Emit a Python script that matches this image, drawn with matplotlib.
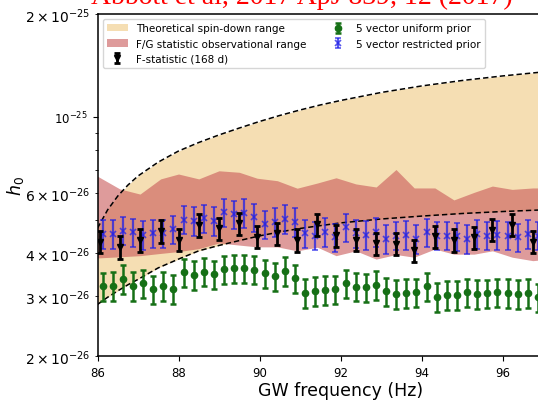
# h0 upper limits vs GW frequency: spin-down range, F/G band and three
# sets of per-bin estimates (5-vector uniform / restricted, F-statistic).
import numpy as np
import matplotlib
matplotlib.use("Agg")
import matplotlib.pyplot as plt

# --- data (units of 1e-26) -----------------------------------------------
# theoretical spin-down range (edges drawn dashed)
sd_freq = [86.0, 86.25, 86.5, 86.75, 87.0, 87.5, 88.0, 88.5, 89.0, 89.5,
           90.0, 90.5, 91.0, 91.5, 92.0, 93.0, 94.0, 95.0, 96.0, 97.0, 98.0]
sd_upper = [4.73, 5.35, 5.87, 6.32, 6.72, 7.38, 7.95, 8.42, 8.86, 9.28,
            9.70, 10.10, 10.48, 10.84, 11.17, 11.79, 12.32, 12.78, 13.18,
            13.54, 13.86]
sd_lower = [2.83, 2.97, 3.10, 3.23, 3.35, 3.62, 3.84, 4.06, 4.21, 4.35,
            4.49, 4.61, 4.72, 4.81, 4.90, 5.03, 5.13, 5.22, 5.29, 5.35, 5.38]

# F/G statistic observational range
fg_freq = [86.0, 86.55, 87.05, 87.56, 88.0, 88.5, 89.0, 89.5, 89.94, 90.44,
           90.93, 91.43, 91.89, 92.38, 92.88, 93.37, 93.82, 94.33, 94.8, 95.3,
           95.75, 96.24, 96.75, 97.25]
fg_upper = [6.71, 6.16, 5.95, 6.59, 6.81, 6.59, 6.96, 6.89, 6.62, 6.51, 6.19,
            6.41, 6.64, 6.37, 6.24, 7.02, 6.20, 6.20, 5.72, 6.02, 6.28, 6.14,
            6.20, 6.20]
fg_lower = [3.87, 3.90, 3.93, 3.99, 4.04, 4.12, 4.28, 4.22, 4.17, 4.17, 4.06,
            4.16, 3.93, 4.06, 3.84, 3.96, 3.89, 4.11, 3.97, 3.97, 4.06, 3.89,
            3.80, 3.85]

# F-statistic (168 d)
fs_freq = [86.06, 86.55, 87.05, 87.56, 88.0, 88.5, 89.0, 89.5, 89.94, 90.44,
           90.93, 91.43, 91.89, 92.38, 92.88, 93.37, 93.82, 94.33, 94.8, 95.3,
           95.75, 96.24, 96.75]
fs_h0 = [4.32, 4.17, 4.36, 4.63, 4.38, 4.83, 4.73, 4.89, 4.46, 4.57, 4.37,
         4.85, 4.51, 4.38, 4.27, 4.26, 4.07, 4.48, 4.36, 4.45, 4.68, 4.84, 4.32]
fs_err = [0.32, 0.33, 0.33, 0.35, 0.33, 0.36, 0.35, 0.36, 0.33, 0.34, 0.33,
          0.36, 0.33, 0.33, 0.32, 0.32, 0.31, 0.33, 0.33, 0.33, 0.35, 0.36, 0.32]

# 5-vector bins (uniform and restricted prior share the frequencies)
fv_freq = [86.125, 86.375, 86.625, 86.875, 87.125, 87.375, 87.625, 87.875,
           88.125, 88.375, 88.625, 88.875, 89.125, 89.375, 89.625, 89.875,
           90.125, 90.375, 90.625, 90.875, 91.125, 91.375, 91.625, 91.875,
           92.125, 92.375, 92.625, 92.875, 93.125, 93.375, 93.625, 93.875,
           94.125, 94.375, 94.625, 94.875, 95.125, 95.375, 95.625, 95.875,
           96.125, 96.375, 96.625, 96.875]
uni_h0 = [3.20, 3.21, 3.36, 3.20, 3.27, 3.13, 3.21, 3.14, 3.51, 3.45, 3.53,
          3.47, 3.59, 3.62, 3.62, 3.58, 3.49, 3.42, 3.55, 3.38, 3.06, 3.10,
          3.12, 3.13, 3.26, 3.19, 3.18, 3.23, 3.09, 3.04, 3.06, 3.07, 3.20,
          2.98, 3.02, 3.02, 3.08, 3.04, 3.05, 3.07, 3.06, 3.04, 3.06, 2.97]
uni_err = [0.30, 0.31, 0.32, 0.31, 0.31, 0.30, 0.31, 0.30, 0.33, 0.33, 0.33,
           0.33, 0.34, 0.34, 0.34, 0.34, 0.33, 0.33, 0.34, 0.32, 0.29, 0.30,
           0.30, 0.30, 0.31, 0.30, 0.30, 0.31, 0.29, 0.29, 0.29, 0.29, 0.30,
           0.29, 0.29, 0.29, 0.29, 0.29, 0.29, 0.29, 0.29, 0.29, 0.29, 0.28]
res_h0 = [4.55, 4.55, 4.65, 4.60, 4.52, 4.58, 4.57, 4.70, 5.01, 4.97, 5.05,
          4.97, 5.26, 5.20, 5.24, 5.10, 4.86, 4.94, 5.03, 4.94, 4.57, 4.50,
          4.62, 4.45, 4.76, 4.57, 4.52, 4.62, 4.40, 4.50, 4.52, 4.40, 4.60,
          4.50, 4.50, 4.48, 4.40, 4.55, 4.50, 4.52, 4.50, 4.45, 4.55, 4.50]
res_err = [0.43, 0.43, 0.44, 0.44, 0.43, 0.43, 0.43, 0.45, 0.47, 0.47, 0.48,
           0.47, 0.50, 0.49, 0.50, 0.48, 0.46, 0.47, 0.48, 0.47, 0.43, 0.43,
           0.44, 0.42, 0.45, 0.43, 0.43, 0.44, 0.42, 0.43, 0.43, 0.42, 0.44,
           0.43, 0.43, 0.43, 0.42, 0.43, 0.43, 0.43, 0.43, 0.42, 0.43, 0.43]

scale = 1e-26
title = "Abbott et al, 2017 ApJ 839, 12 (2017)"

# --- figure --------------------------------------------------------------
W, H = 538.0, 402.0
fig = plt.figure(figsize=(W / 100, H / 100), dpi=100)
# axes run past the right edge of the canvas (cropped like the original)
ax = fig.add_axes([97.5 / W, 45 / H, 486 / W, 342 / H])

s = lambda v: np.asarray(v) * scale

ax.fill_between(sd_freq, s(sd_lower), s(sd_upper), color="#f5deb3",
                lw=0, zorder=1, label="Theoretical spin-down range")
ax.fill_between(fg_freq, s(fg_lower), s(fg_upper), color="#c85858",
                alpha=0.6, lw=0, zorder=2,
                label="F/G statistic observational range")
ax.plot(sd_freq, s(sd_upper), color="k", ls="--", lw=1.1, dashes=(3.5, 2),
        zorder=3)
ax.plot(sd_freq, s(sd_lower), color="k", ls="--", lw=1.1, dashes=(3.5, 2),
        zorder=3)

ax.errorbar(fv_freq, s(uni_h0), yerr=s(uni_err), fmt="o", color="#167016",
            ms=4.5, elinewidth=1.8, capsize=2.5, capthick=1.8, zorder=4,
            label="5 vector uniform prior")
ax.errorbar(fv_freq, s(res_h0), yerr=s(res_err), fmt="x", color="#2020e8",
            alpha=0.75, ms=4, mew=1.2, elinewidth=1.6, capsize=2.5,
            capthick=1.6, zorder=5, label="5 vector restricted prior")
ax.errorbar(fs_freq, s(fs_h0), yerr=s(fs_err), fmt="v", color="k", ms=5,
            elinewidth=2, capsize=2.5, capthick=2, zorder=6,
            label="F-statistic (168 d)")

ax.set_yscale("log")
ax.set_xlim(86, 98)
ax.set_ylim(2e-26, 2e-25)
ax.set_xticks([86, 88, 90, 92, 94, 96])
ax.tick_params(labelsize=8.5)
ax.set_xlabel("GW frequency (Hz)", fontsize=12.5, labelpad=2)
ax.set_ylabel("$h_0$", fontsize=12.5)
ax.yaxis.set_label_coords(-0.147, 0.5)
for sp in ax.spines.values():
    sp.set_linewidth(1.1)

handles, labels = ax.get_legend_handles_labels()
order = ["Theoretical spin-down range", "F/G statistic observational range",
         "F-statistic (168 d)", "5 vector uniform prior",
         "5 vector restricted prior"]
hmap = dict(zip(labels, handles))
ax.legend([hmap[k] for k in order], order, loc="upper left", ncol=2,
          fontsize=7.5)

# citation banner, mostly cut off by the top edge as in the source crop
fig.text(91 / W, 1 - 3.5 / H, title, color="red", fontsize=20,
         family="Liberation Serif", ha="left", va="baseline")

fig.savefig("out.png", dpi=100)
